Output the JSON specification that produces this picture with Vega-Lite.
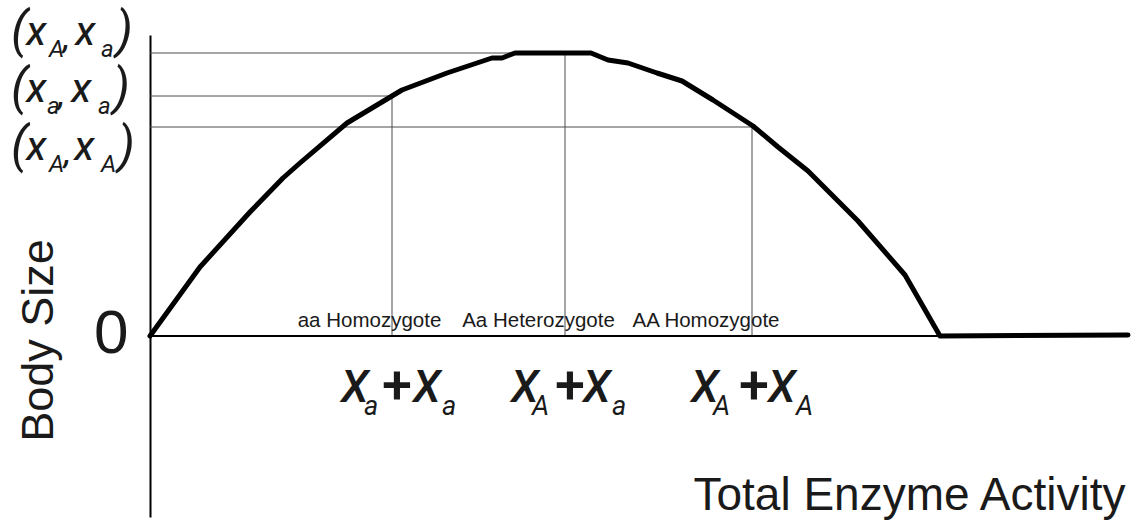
{
  "$schema": "https://vega.github.io/schema/vega-lite/v6.json",
  "width": 984,
  "height": 482,
  "autosize": {"type": "none"},
  "padding": {"left": 150, "top": 35, "right": 0, "bottom": 4},
  "background": "white",
  "config": {"view": {"stroke": null}, "font": "Liberation Sans", "text": {"font": "Liberation Sans", "color": "#1a1a1a"}},
  "datasets": {
    "curve": [
      {"activity": 0, "size": 0}, {"activity": 50, "size": 69}, {"activity": 100, "size": 124},
      {"activity": 133, "size": 158}, {"activity": 150, "size": 173}, {"activity": 197, "size": 213},
      {"activity": 242, "size": 240}, {"activity": 252, "size": 246}, {"activity": 297, "size": 263},
      {"activity": 342, "size": 278}, {"activity": 352, "size": 278}, {"activity": 365, "size": 283},
      {"activity": 441, "size": 283}, {"activity": 458, "size": 276}, {"activity": 478, "size": 273},
      {"activity": 507, "size": 263}, {"activity": 532, "size": 255}, {"activity": 563, "size": 236},
      {"activity": 603, "size": 210}, {"activity": 628, "size": 189}, {"activity": 658, "size": 165},
      {"activity": 708, "size": 115}, {"activity": 755, "size": 61}, {"activity": 790, "size": 0},
      {"activity": 978, "size": 1}
    ],
    "refs": [
      {"kind": "ref", "activity": 0, "activity2": 415, "size": 283, "size2": 283},
      {"kind": "ref", "activity": 0, "activity2": 242, "size": 240, "size2": 240},
      {"kind": "ref", "activity": 0, "activity2": 602, "size": 209, "size2": 209},
      {"kind": "ref", "activity": 242, "activity2": 242, "size": 0, "size2": 240},
      {"kind": "ref", "activity": 415, "activity2": 415, "size": 0, "size2": 283},
      {"kind": "ref", "activity": 602, "activity2": 602, "size": 0, "size2": 209},
      {"kind": "base", "activity": 0, "activity2": 790, "size": 0, "size2": 0}
    ],
    "genotypes": [
      {"activity": 219.5, "size": 9, "label": "aa Homozygote"},
      {"activity": 388.5, "size": 9, "label": "Aa Heterozygote"},
      {"activity": 556, "size": 9, "label": "AA Homozygote"}
    ],
    "math": [
      {"role": "paren", "activity": -139, "size": 289, "label": "("},
      {"role": "lvar", "activity": -124, "size": 291, "label": "X"},
      {"role": "lsub", "activity": -101, "size": 279, "label": "A"},
      {"role": "comma", "activity": -87, "size": 287, "label": ","},
      {"role": "lvar", "activity": -75, "size": 291, "label": "X"},
      {"role": "lsub", "activity": -49, "size": 279, "label": "a"},
      {"role": "paren", "activity": -34, "size": 289, "label": ")"},

      {"role": "paren", "activity": -139, "size": 232, "label": "("},
      {"role": "lvar", "activity": -124, "size": 234, "label": "X"},
      {"role": "lsub", "activity": -103, "size": 222, "label": "a"},
      {"role": "comma", "activity": -92, "size": 230, "label": ","},
      {"role": "lvar", "activity": -79, "size": 234, "label": "X"},
      {"role": "lsub", "activity": -52, "size": 222, "label": "a"},
      {"role": "paren", "activity": -37, "size": 232, "label": ")"},

      {"role": "paren", "activity": -139, "size": 174, "label": "("},
      {"role": "lvar", "activity": -124, "size": 176, "label": "X"},
      {"role": "lsub", "activity": -101, "size": 164, "label": "A"},
      {"role": "comma", "activity": -86, "size": 172, "label": ","},
      {"role": "lvar", "activity": -76, "size": 176, "label": "X"},
      {"role": "lsub", "activity": -49, "size": 164, "label": "A"},
      {"role": "paren", "activity": -32, "size": 174, "label": ")"},

      {"role": "bvar", "activity": 191, "size": -66, "label": "X"},
      {"role": "bsub", "activity": 214, "size": -79, "label": "a"},
      {"role": "plus", "activity": 232, "size": -67, "label": "+"},
      {"role": "bvar", "activity": 263, "size": -66, "label": "X"},
      {"role": "bsub", "activity": 292, "size": -79, "label": "a"},

      {"role": "bvar", "activity": 361, "size": -66, "label": "X"},
      {"role": "bsub", "activity": 382, "size": -79, "label": "A"},
      {"role": "plus", "activity": 405, "size": -67, "label": "+"},
      {"role": "bvar", "activity": 433, "size": -66, "label": "X"},
      {"role": "bsub", "activity": 462, "size": -79, "label": "a"},

      {"role": "bvar", "activity": 541, "size": -66, "label": "X"},
      {"role": "bsub", "activity": 563, "size": -79, "label": "A"},
      {"role": "plus", "activity": 589, "size": -67, "label": "+"},
      {"role": "bvar", "activity": 618, "size": -66, "label": "X"},
      {"role": "bsub", "activity": 646, "size": -79, "label": "A"}
    ]
  },
  "encoding": {
    "x": {
      "field": "activity", "type": "quantitative",
      "scale": {"domain": [0, 984], "nice": false, "zero": false},
      "axis": {"domain": false, "ticks": false, "labels": false, "grid": false,
        "title": "Total Enzyme Activity", "titleFont": "Liberation Sans", "titleFontSize": 46,
        "titleFontWeight": "normal", "titleColor": "#1a1a1a", "titleX": 975, "titleY": -8,
        "titleAlign": "right", "titleBaseline": "alphabetic", "titleAngle": 0}
    },
    "y": {
      "field": "size", "type": "quantitative",
      "scale": {"domain": [-181, 301], "nice": false, "zero": false},
      "axis": {"values": [0], "domain": true, "domainColor": "#000000", "domainWidth": 2,
        "ticks": false, "grid": false, "labelFont": "Liberation Sans", "labelFontSize": 62,
        "labelColor": "#1a1a1a", "labelPadding": 22, "labelOffset": -3,
        "title": "Body Size", "titleFont": "Liberation Sans", "titleFontSize": 45,
        "titleFontWeight": "normal", "titleColor": "#1a1a1a", "titleX": -98, "titleY": 305,
        "titleAngle": -90, "titleAlign": "center", "titleBaseline": "alphabetic"}
    }
  },
  "layer": [
    {
      "data": {"name": "refs"},
      "transform": [{"filter": "datum.kind === 'ref'"}],
      "mark": {"type": "rule", "color": "#4d4d4d", "strokeWidth": 1},
      "encoding": {"x2": {"field": "activity2"}, "y2": {"field": "size2"}}
    },
    {
      "data": {"name": "refs"},
      "transform": [{"filter": "datum.kind === 'base'"}],
      "mark": {"type": "rule", "color": "#000000", "strokeWidth": 2},
      "encoding": {"x2": {"field": "activity2"}, "y2": {"field": "size2"}}
    },
    {
      "data": {"name": "curve"},
      "mark": {"type": "line", "color": "#000000", "strokeWidth": 5, "strokeCap": "round", "strokeJoin": "round"}
    },
    {
      "data": {"name": "genotypes"},
      "mark": {"type": "text", "fontSize": 20.5, "align": "center", "baseline": "alphabetic"},
      "encoding": {"text": {"field": "label"}}
    },
    {
      "data": {"name": "math"},
      "transform": [{"filter": "datum.role === 'paren'"}],
      "mark": {"type": "text", "font": "Roboto", "fontSize": 50, "fontStyle": "italic", "align": "left", "baseline": "alphabetic"},
      "encoding": {"text": {"field": "label"}}
    },
    {
      "data": {"name": "math"},
      "transform": [{"filter": "datum.role === 'lvar' || datum.role === 'comma'"}],
      "mark": {"type": "text", "font": "Roboto", "fontSize": 32, "fontWeight": 500, "fontStyle": "italic", "align": "left", "baseline": "alphabetic"},
      "encoding": {"text": {"field": "label"}}
    },
    {
      "data": {"name": "math"},
      "transform": [{"filter": "datum.role === 'lsub'"}],
      "mark": {"type": "text", "font": "Roboto", "fontSize": 24, "fontStyle": "italic", "align": "left", "baseline": "alphabetic"},
      "encoding": {"text": {"field": "label"}}
    },
    {
      "data": {"name": "math"},
      "transform": [{"filter": "datum.role === 'bvar'"}],
      "mark": {"type": "text", "font": "Roboto", "fontSize": 45, "fontWeight": 500, "fontStyle": "italic", "align": "left", "baseline": "alphabetic"},
      "encoding": {"text": {"field": "label"}}
    },
    {
      "data": {"name": "math"},
      "transform": [{"filter": "datum.role === 'bsub'"}],
      "mark": {"type": "text", "font": "Roboto", "fontSize": 27, "fontStyle": "italic", "align": "left", "baseline": "alphabetic"},
      "encoding": {"text": {"field": "label"}}
    },
    {
      "data": {"name": "math"},
      "transform": [{"filter": "datum.role === 'plus'"}],
      "mark": {"type": "text", "font": "Roboto", "fontSize": 54, "fontWeight": 500, "align": "left", "baseline": "alphabetic"},
      "encoding": {"text": {"field": "label"}}
    }
  ]
}
